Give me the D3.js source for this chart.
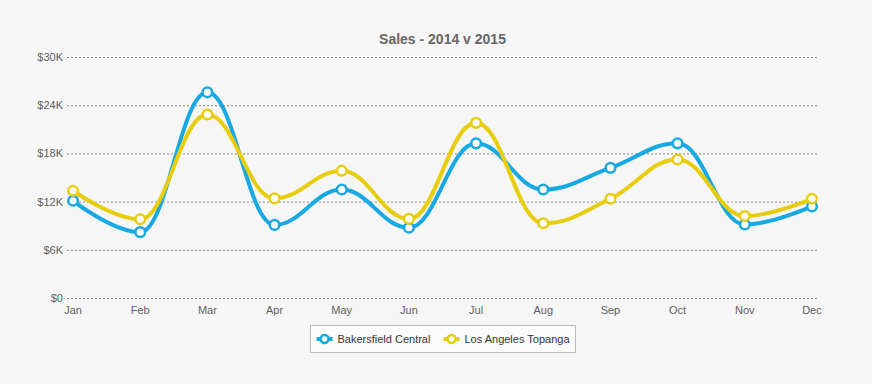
<!DOCTYPE html>
<html>
<head>
<meta charset="utf-8">
<script src="https://cdn.jsdelivr.net/npm/d3@7"></script>
<style>
  body { margin: 0; background: #f6f6f6; }
  svg { display: block; font-family: "Liberation Sans", Arial, sans-serif; }
</style>
</head>
<body>
<svg id="svg"></svg>
<script>
////////////////////////////////////////////////////////////////////////
// Data

let months = ["Jan", "Feb", "Mar", "Apr", "May", "Jun", "Jul", "Aug", "Sep", "Oct", "Nov", "Dec"];
let bakersfield = [12100, 8200, 25600, 9100, 13500, 8750, 19250, 13500, 16200, 19250, 9150, 11400];
let losAngeles  = [13350, 9800, 22850, 12400, 15850, 9850, 21800, 9300, 12350, 17250, 10200, 12350];
let yTicks = [0, 6000, 12000, 18000, 24000, 30000];

let series = [
  { name: "Bakersfield Central", values: bakersfield, color: "#18a8e2" },
  { name: "Los Angeles Topanga", values: losAngeles, color: "#e8cd0e" }
];

////////////////////////////////////////////////////////////////////////
// Layout

let width = 872, height = 384;
let plot = { left: 67, right: 818, top: 57, bottom: 298 };

let svg = d3.select("#svg").attr("width", width).attr("height", height);

let x = d3.scalePoint()
          .domain(months)
          .range([plot.left, plot.right])
          .padding(0.09);

let y = d3.scaleLinear()
          .domain([0, 30000])
          .range([plot.bottom, plot.top]);

// gridlines
svg.append("g")
   .selectAll("line")
   .data(yTicks)
   .enter()
   .append("line")
   .attr("x1", plot.left)
   .attr("x2", plot.right)
   .attr("y1", d => y(d) + 0.5)
   .attr("y2", d => y(d) + 0.5)
   .attr("stroke", "#8a8a8a")
   .attr("stroke-dasharray", "2,2");

// y labels
svg.append("g")
   .selectAll("text")
   .data(yTicks)
   .enter()
   .append("text")
   .attr("x", plot.left - 4)
   .attr("y", d => y(d) + 4)
   .attr("text-anchor", "end")
   .attr("font-size", 11)
   .attr("fill", "#606060")
   .text(d => d === 0 ? "$0" : "$" + (d / 1000) + "K");

// x labels
svg.append("g")
   .selectAll("text")
   .data(months)
   .enter()
   .append("text")
   .attr("x", d => x(d))
   .attr("y", plot.bottom + 16)
   .attr("text-anchor", "middle")
   .attr("font-size", 11)
   .attr("fill", "#606060")
   .text(d => d);

// title
svg.append("text")
   .attr("x", (plot.left + plot.right) / 2)
   .attr("y", 44)
   .attr("text-anchor", "middle")
   .attr("font-size", 14)
   .attr("font-weight", "bold")
   .attr("fill", "#666")
   .text("Sales - 2014 v 2015");

////////////////////////////////////////////////////////////////////////
// Spline path (same smoothing as a highcharts spline)

function splinePath(pts)
{
  let smoothing = 1.5, denom = smoothing + 1;
  let d = "";
  for (let i = 0; i < pts.length; ++i) {
    let p = pts[i], last = pts[i-1], next = pts[i+1];
    let lcx, lcy, rcx, rcy;
    if (last && next) {
      lcx = (smoothing * p.x + last.x) / denom;
      lcy = (smoothing * p.y + last.y) / denom;
      rcx = (smoothing * p.x + next.x) / denom;
      rcy = (smoothing * p.y + next.y) / denom;
      let corr = ((rcy - lcy) * (rcx - p.x)) / (rcx - lcx) + p.y - rcy;
      lcy += corr;
      rcy += corr;
      if (lcy > last.y && lcy > p.y) { lcy = Math.max(last.y, p.y); rcy = 2 * p.y - lcy; }
      else if (lcy < last.y && lcy < p.y) { lcy = Math.min(last.y, p.y); rcy = 2 * p.y - lcy; }
      if (rcy > next.y && rcy > p.y) { rcy = Math.max(next.y, p.y); lcy = 2 * p.y - rcy; }
      else if (rcy < next.y && rcy < p.y) { rcy = Math.min(next.y, p.y); lcy = 2 * p.y - rcy; }
      p.rcx = rcx; p.rcy = rcy;
    }
    if (i === 0) {
      d += "M" + p.x + "," + p.y;
    } else {
      let a = last.rcx !== undefined ? [last.rcx, last.rcy] : [last.x, last.y];
      let b = lcx !== undefined ? [lcx, lcy] : [p.x, p.y];
      d += "C" + a[0] + "," + a[1] + "," + b[0] + "," + b[1] + "," + p.x + "," + p.y;
    }
  }
  return d;
}

// lines and markers
series.forEach(function(s) {
  let pts = s.values.map((v, i) => ({ x: x(months[i]), y: y(v) }));
  let g = svg.append("g");
  g.append("path")
   .attr("d", splinePath(pts))
   .attr("fill", "none")
   .attr("stroke", s.color)
   .attr("stroke-width", 4)
   .attr("stroke-linecap", "round")
   .attr("stroke-linejoin", "round");
  g.selectAll("circle")
   .data(pts)
   .enter()
   .append("circle")
   .attr("cx", d => d.x)
   .attr("cy", d => d.y)
   .attr("r", 4.8)
   .attr("fill", "#fff")
   .attr("stroke", s.color)
   .attr("stroke-width", 2.5);
});

////////////////////////////////////////////////////////////////////////
// Legend

let legend = svg.append("g").attr("transform", "translate(310.5,325.5)");
legend.append("rect")
      .attr("width", 265)
      .attr("height", 27)
      .attr("fill", "#fcfcfc")
      .attr("stroke", "#bbb");

let itemX = [6, 133];
series.forEach(function(s, i) {
  let it = legend.append("g").attr("transform", "translate(" + itemX[i] + ",13.5)");
  it.append("line")
    .attr("x1", 0).attr("x2", 16)
    .attr("stroke", s.color)
    .attr("stroke-width", 4);
  it.append("circle")
    .attr("cx", 8)
    .attr("r", 4)
    .attr("fill", "#fff")
    .attr("stroke", s.color)
    .attr("stroke-width", 2.5);
  it.append("text")
    .attr("x", 21)
    .attr("y", 4)
    .attr("font-size", 11)
    .attr("fill", "#333")
    .text(s.name);
});
</script>
</body>
</html>
